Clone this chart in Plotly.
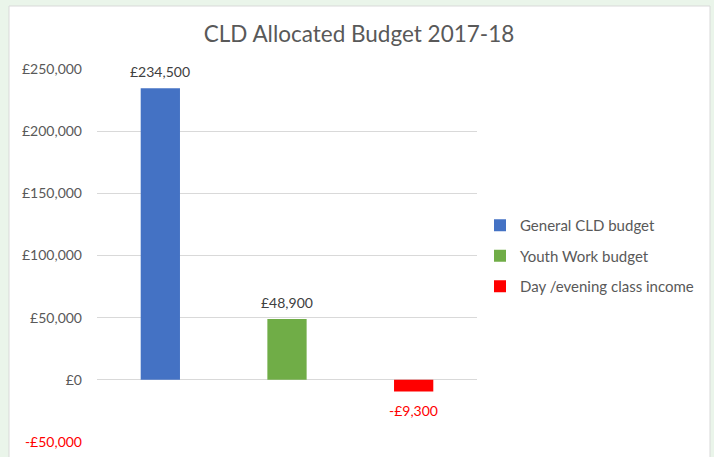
import plotly.graph_objects as go

categories = ["General CLD budget", "Youth Work budget", "Day /evening class income"]
values = [234500, 48900, -9300]
colors = ["#4472C4", "#70AD47", "#FF0000"]
tick_values = [-50000, 0, 50000, 100000, 150000, 200000, 250000]


def money(v):
    return ("-£" if v < 0 else "£") + f"{abs(v):,}"


tick_text = [
    (f"<span style='color:#FF0000'>{money(v)}</span>" if v < 0 else money(v))
    for v in tick_values
]

FONT = "Lato, 'Open Sans', sans-serif"

fig = go.Figure()
for i, (cat, val, col) in enumerate(zip(categories, values, colors)):
    fig.add_trace(go.Bar(
        x=[cat], y=[val], name=cat,
        marker=dict(color=col, line=dict(width=0)),
        width=0.31,
        legendgroup=f"g{i}",
        hoverinfo="skip",
    ))
    fig.add_annotation(
        x=cat, y=val, xref="x", yref="y", text=money(val), showarrow=False,
        yanchor="middle", yshift=(17 if val >= 0 else -19),
        font=dict(color="#FF0000" if val < 0 else "#404040", size=14, family=FONT),
    )

W, H = 714, 457
L, R, T, B = 97, 237, 69, 15
pw, ph = W - L - R, H - T - B


def px_x(p):
    return (p - L) / pw


def px_y(p):
    return (H - B - p) / ph


fig.add_shape(type="rect", xref="paper", yref="paper",
              x0=px_x(9), x1=px_x(710), y0=px_y(470), y1=px_y(6),
              fillcolor="white", line=dict(color="#D9D9D9", width=1), layer="below")

fig.update_layout(
    width=W, height=H,
    margin=dict(l=L, r=R, t=T, b=B, autoexpand=False),
    paper_bgcolor="#EAF5EA",
    plot_bgcolor="rgba(0,0,0,0)",
    barmode="relative",
    showlegend=True,
    font=dict(family=FONT, color="#595959", size=13),
    title=dict(text="CLD Allocated Budget 2017-18", x=359 / W, xanchor="center",
               y=1 - 34 / H, yanchor="middle",
               font=dict(size=22.5, color="#595959", family=FONT)),
    legend=dict(x=px_x(480), xanchor="left", y=px_y(209), yanchor="top",
                font=dict(size=15, color="#595959", family=FONT),
                tracegroupgap=8, traceorder="grouped",
                bgcolor="rgba(0,0,0,0)", itemwidth=30),
    xaxis=dict(showticklabels=False, showgrid=False, zeroline=False, showline=False,
               ticks="", automargin=False),
    yaxis=dict(range=[-50000, 250000], tickvals=tick_values, ticktext=tick_text,
               showgrid=True, gridcolor="#D9D9D9", gridwidth=1,
               zeroline=True, zerolinecolor="#D9D9D9", zerolinewidth=1,
               showline=False, ticks="", ticklabelstandoff=14, automargin=False,
               tickfont=dict(size=14, color="#595959", family=FONT)),
)

fig.write_html("out.html", config={"displayModeBar": False},
               post_script="document.body.style.margin='0';document.body.style.overflow='hidden';")
